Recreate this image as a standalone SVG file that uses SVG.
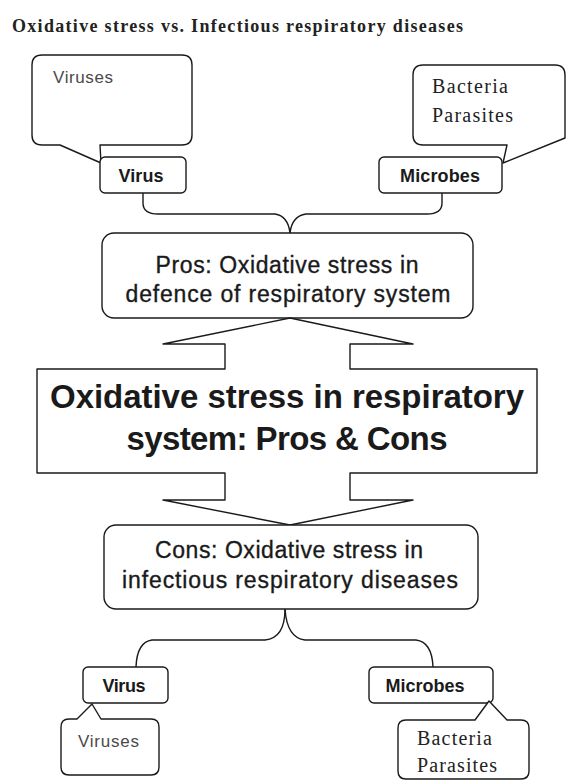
<svg xmlns="http://www.w3.org/2000/svg" width="567" height="783" viewBox="0 0 567 783">
<style>
.ln{fill:none;stroke:#1a1a1a;stroke-width:1.4;stroke-linejoin:round}
.bx{fill:#fff;stroke:#1a1a1a;stroke-width:1.4;stroke-linejoin:round}
.sans{font-family:"Liberation Sans",Arial,sans-serif;fill:#1a1a1a}
.ser{font-family:"Liberation Serif","Times New Roman",serif;fill:#222}
.lab{font-size:18px;font-weight:bold;text-anchor:middle}
.mid{font-size:23px;text-anchor:middle;stroke:#1a1a1a;stroke-width:0.35}
.big{font-size:33px;font-weight:bold;text-anchor:middle}
.gray{font-size:17px;fill:#4a4a4a}
.bac{font-size:20px}
</style>
<rect width="567" height="783" fill="#fff"/>
<text class="ser" x="12" y="32" font-size="18" font-weight="bold" textLength="451">Oxidative stress vs. Infectious respiratory diseases</text>

<g id="connectors">
<path class="ln" d="M143,193 V203 Q143,214 158,214 H275 Q288,216 290,233"/>
<path class="ln" d="M442,193 V203 Q442,214 427,214 H306 Q292,216 290,233"/>
<path class="ln" d="M285,609 Q285,638 265,640 H152 Q137,642 136,667"/>
<path class="ln" d="M285,609 Q287,638 305,640 H416 Q432,642 433,667"/>
</g>

<g id="callout-viruses-top">
<path class="bx" d="M42,55 H182 Q192,55 192,65 V135 Q192,145 182,145 H100 L101,163 L60,145 H42 Q32,145 32,135 V65 Q32,55 42,55 Z"/>
<text class="sans gray" x="53" y="83" textLength="60">Viruses</text>
</g>
<g id="virus-top">
<rect class="bx" x="100" y="157" width="86" height="36" rx="5"/>
<text class="sans lab" x="141" y="182" textLength="45">Virus</text>
</g>
<g id="callout-bacteria-top">
<path class="bx" d="M423,65 H555 Q565,65 565,75 V138 L503,163 L507,145 H423 Q413,145 413,135 V75 Q413,65 423,65 Z"/>
<text class="ser bac" x="432" y="93" textLength="76">Bacteria</text>
<text class="ser bac" x="432" y="122" textLength="81">Parasites</text>
</g>
<g id="microbes-top">
<rect class="bx" x="379" y="157" width="123" height="36" rx="5"/>
<text class="sans lab" x="440" y="182" textLength="80">Microbes</text>
</g>

<g id="pros">
<rect class="bx" x="102" y="233" width="371" height="85" rx="12"/>
<text class="sans mid" x="287" y="273" textLength="263">Pros: Oxidative stress in</text>
<text class="sans mid" x="288" y="302" textLength="325">defence of respiratory system</text>
</g>

<g id="central">
<path class="bx" d="M37,369 H225 V344 H163 L290,318 L413,344 H350 V369 H537 V473 H350 V500 H413 L290,525 L163,500 H225 V473 H37 Z"/>
<text class="sans big" x="287" y="408" textLength="474">Oxidative stress in respiratory</text>
<text class="sans big" x="287" y="450" textLength="321">system: Pros &amp; Cons</text>
</g>

<g id="cons">
<rect class="bx" x="104" y="525" width="374" height="84" rx="12"/>
<text class="sans mid" x="289" y="558" textLength="268">Cons: Oxidative stress in</text>
<text class="sans mid" x="290" y="588" textLength="336">infectious respiratory diseases</text>
</g>

<g id="virus-bottom">
<rect class="bx" x="83" y="667" width="85" height="36" rx="5"/>
<text class="sans lab" x="124" y="692" textLength="43">Virus</text>
</g>
<g id="callout-viruses-bottom">
<path class="bx" d="M69,719 H77 L92,704 L101,719 H151 Q159,719 159,727 V767 Q159,775 151,775 H69 Q61,775 61,767 V727 Q61,719 69,719 Z"/>
<text class="sans gray" x="78" y="747" textLength="61">Viruses</text>
</g>
<g id="microbes-bottom">
<rect class="bx" x="369" y="667" width="124" height="36" rx="5"/>
<text class="sans lab" x="425" y="692" textLength="79">Microbes</text>
</g>
<g id="callout-bacteria-bottom">
<path class="bx" d="M406,720 H475 L489,701 L507,720 H521 Q529,720 529,728 V771 Q529,779 521,779 H406 Q398,779 398,771 V728 Q398,720 406,720 Z"/>
<text class="ser bac" x="417" y="745" textLength="75">Bacteria</text>
<text class="ser bac" x="417" y="772" textLength="80">Parasites</text>
</g>
</svg>
